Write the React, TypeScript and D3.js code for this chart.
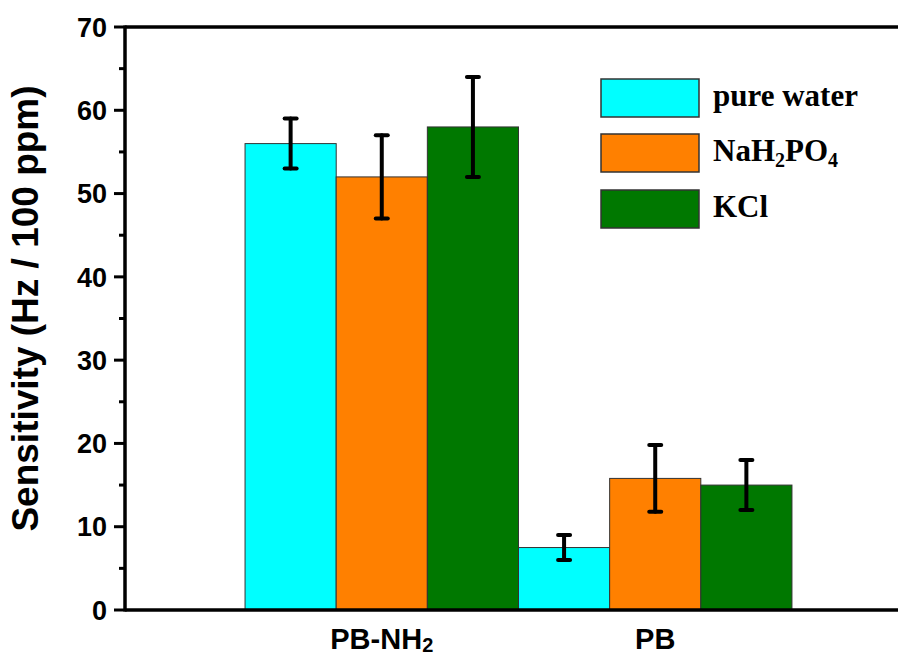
import React from "react";
import * as d3 from "d3";

const categories = ["PB-NH2", "PB"];
const seriesNames = ["pure water", "NaH2PO4", "KCl"];
const seriesColors = ["#00FFFF", "#FF8000", "#007800"];
const pureWater = [56, 7.5];
const pureWaterErr = [3, 1.5];
const nah2po4 = [52, 15.8];
const nah2po4Err = [5, 4];
const kcl = [58, 15];
const kclErr = [6, 3];
const yTicks = [0, 10, 20, 30, 40, 50, 60, 70];

const W = 898;
const H = 656;
const left = 125;
const right = 912;
const top = 27;
const bottom = 610;

export default function App() {
  const values = [pureWater, nah2po4, kcl];
  const errs = [pureWaterErr, nah2po4Err, kclErr];
  const x = d3.scaleBand<string>().domain(categories).range([left, right]).paddingInner(0).paddingOuter(0.439);
  const xi = d3.scaleBand<string>().domain(seriesNames).range([0, x.bandwidth()]).padding(0);
  const y = d3.scaleLinear().domain([0, 70]).range([bottom, top]);
  const minor = d3.range(5, 70, 10);
  const sans = "Arial, 'Liberation Sans', sans-serif";
  const serif = "'Times New Roman', 'Liberation Serif', serif";

  const label = (c: string) =>
    c === "PB-NH2" ? (
      <>
        PB-NH<tspan fontSize={20} dy={3}>2</tspan>
      </>
    ) : (
      c
    );

  const legendLabel = (s: string) =>
    s === "NaH2PO4" ? (
      <>
        NaH<tspan fontSize={20} dy={6}>2</tspan>
        <tspan dy={-6}>PO</tspan>
        <tspan fontSize={20} dy={6}>4</tspan>
      </>
    ) : (
      s
    );

  return (
    <div style={{ position: "absolute", left: 0, top: 0, width: W, height: H, overflow: "hidden", background: "#fff" }}>
      <svg width={W} height={H} style={{ display: "block" }}>
        <rect x={0} y={0} width={W} height={H} fill="#fff" />
        {/* bars */}
        {categories.map((c, ci) =>
          seriesNames.map((s, si) => {
            const v = values[si][ci];
            const bx = (x(c) as number) + (xi(s) as number);
            return (
              <rect
                key={c + s}
                x={bx}
                y={y(v)}
                width={xi.bandwidth()}
                height={y(0) - y(v)}
                fill={seriesColors[si]}
                stroke="#333"
                strokeWidth={1}
              />
            );
          })
        )}
        {/* error bars */}
        {categories.map((c, ci) =>
          seriesNames.map((s, si) => {
            const v = values[si][ci];
            const e = errs[si][ci];
            const cx = (x(c) as number) + (xi(s) as number) + xi.bandwidth() / 2;
            return (
              <g key={"e" + c + s} stroke="#000" strokeWidth={4} strokeLinecap="round">
                <line x1={cx} x2={cx} y1={y(v - e)} y2={y(v + e)} />
                <line x1={cx - 6} x2={cx + 6} y1={y(v + e)} y2={y(v + e)} />
                <line x1={cx - 6} x2={cx + 6} y1={y(v - e)} y2={y(v - e)} />
              </g>
            );
          })
        )}
        {/* axes frame */}
        <line x1={left} x2={W + 20} y1={top} y2={top} stroke="#000" strokeWidth={3.5} />
        <line x1={left} x2={W + 20} y1={bottom} y2={bottom} stroke="#000" strokeWidth={3.5} />
        <line x1={left} x2={left} y1={top - 1.5} y2={bottom + 1.5} stroke="#000" strokeWidth={3.5} />
        {yTicks.map((t) => (
          <g key={t}>
            <line x1={left - 11} x2={left} y1={y(t)} y2={y(t)} stroke="#000" strokeWidth={3} />
            <text
              x={107}
              y={y(t)}
              dy="0.36em"
              textAnchor="end"
              fontFamily={sans}
              fontWeight="bold"
              fontSize={27}
              fill="#000"
            >
              {t}
            </text>
          </g>
        ))}
        {minor.map((t) => (
          <line key={"m" + t} x1={left - 6} x2={left} y1={y(t)} y2={y(t)} stroke="#000" strokeWidth={3} />
        ))}
        {/* x labels */}
        {categories.map((c) => (
          <text
            key={"xl" + c}
            x={(x(c) as number) + x.bandwidth() / 2}
            y={649}
            textAnchor="middle"
            fontFamily={sans}
            fontWeight="bold"
            fontSize={29}
            fill="#000"
          >
            {label(c)}
          </text>
        ))}
        {/* y title */}
        <text
          transform={`translate(38,${(85 + 532) / 2}) rotate(-90)`}
          textAnchor="middle"
          fontFamily={sans}
          fontWeight="bold"
          fontSize={37}
          fill="#000"
        >
          Sensitivity (Hz / 100 ppm)
        </text>
        {/* legend */}
        {seriesNames.map((s, si) => {
          const ly = [79, 134, 190][si];
          return (
            <g key={"lg" + s}>
              <rect x={601} y={ly} width={98} height={38} fill={seriesColors[si]} stroke="#333" strokeWidth={1.5} />
              <text
                x={713}
                y={ly + 27}
                fontFamily={serif}
                fontWeight="bold"
                fontSize={31}
                fill="#000"
              >
                {legendLabel(s)}
              </text>
            </g>
          );
        })}
      </svg>
    </div>
  );
}
